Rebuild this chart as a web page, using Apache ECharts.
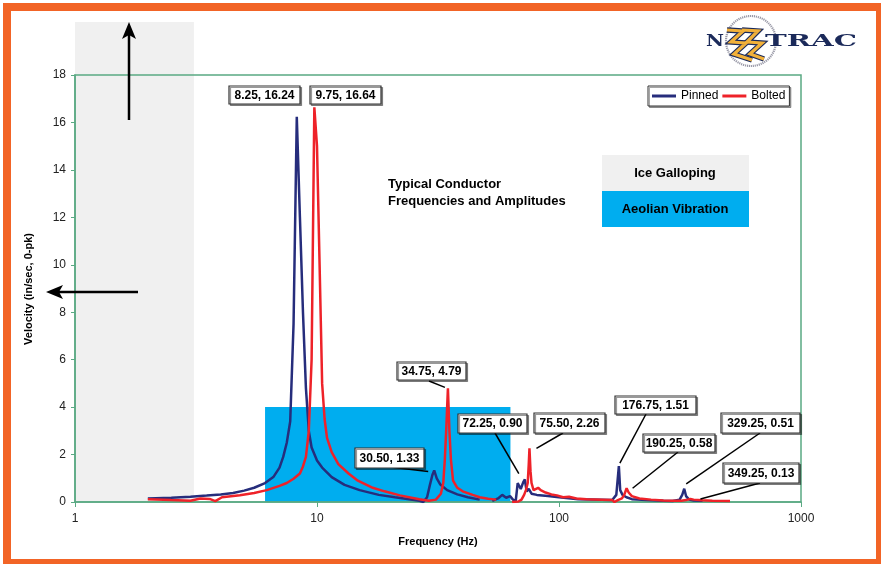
<!DOCTYPE html>
<html><head><meta charset="utf-8">
<script src="https://cdn.jsdelivr.net/npm/echarts@6/dist/echarts.min.js"></script>
<style>
html,body{margin:0;padding:0;width:881px;height:564px;overflow:hidden;background:#fff;}
#chart{position:absolute;left:0;top:0;width:881px;height:564px;}
#frame{position:absolute;left:3px;top:3px;width:881px;height:564px;box-sizing:border-box;border:8px solid #f26426;pointer-events:none;}
</style></head><body>
<div id="chart"></div><div id="frame"></div>
<script>
// ---------- data ----------
const seriesNames = ['Pinned', 'Bolted'];
const pinnedFreq = [2.0,2.5,3.0,3.5,4.0,4.5,5.0,5.5,6.1,6.6,7.0,7.25,7.5,7.75,8.0,8.25,8.5,8.75,9.0,9.25,9.5,10.0,10.5,11.5,13.0,15.0,18.0,21.0,24.0,26.5,27.5,28.5,29.25,30.0,30.5,31.25,32.25,34.5,38.0,42.0,47.0,50.0,53.0,56.0,58.25,60.5,62.75,64.5,66.25,67.5,69.5,71.25,72.25,73.5,75.0,77.0,81.0,90.0,100.0,120.0,150.0,166.0,169.0,172.5,176.75,179.0,183.0,190.0,200.0,230.0,270.0,295.0,298.0,315.0,323.0,329.25,335.0,345.0,360.0,392.0];
const pinnedVel = [0.15,0.18,0.22,0.27,0.32,0.38,0.48,0.6,0.8,1.05,1.45,1.9,2.5,3.4,7.5,16.24,12.0,8.0,4.8,3.0,2.3,1.75,1.45,1.05,0.72,0.5,0.3,0.2,0.12,0.05,0.0,0.2,0.7,1.15,1.33,1.0,0.75,0.5,0.32,0.2,0.1,'-',0.05,0.15,0.3,0.18,0.25,0.1,0.05,0.8,0.55,0.85,0.95,0.45,0.55,0.35,0.3,0.25,0.2,0.12,0.1,0.08,0.0,0.3,1.51,0.5,0.3,0.2,0.12,0.08,0.05,0.04,0.0,0.1,0.3,0.56,0.25,0.1,0.06,0.05];
const boltedFreq = [2.0,2.5,3.0,3.3,3.6,3.8,4.05,4.8,5.5,6.2,7.0,7.5,8.0,8.5,8.75,9.0,9.25,9.5,9.75,10.0,10.25,10.5,10.75,11.0,11.5,12.25,13.5,14.75,17.0,19.0,22.0,26.5,29.0,31.0,32.5,33.25,33.75,34.25,34.75,35.25,35.75,36.5,38.0,40.0,44.0,47.0,51.0,55.0,60.0,64.0,68.0,70.0,71.75,73.0,74.25,75.0,75.5,76.25,77.0,78.5,80.0,82.0,84.0,88.0,93.0,98.0,104.0,110.0,118.0,130.0,150.0,166.0,169.5,175.0,182.0,186.0,190.25,194.0,200.0,215.0,240.0,270.0,295.0,299.0,320.0,335.0,349.25,360.0,390.0,430.0,509.0];
const boltedVel = [0.12,0.08,0.05,0.15,0.13,0.04,0.2,0.28,0.38,0.5,0.68,0.8,0.98,1.2,1.5,1.9,3.0,6.0,16.64,15.0,10.0,5.0,3.5,2.7,2.1,1.6,1.2,0.9,0.6,0.45,0.28,0.12,0.05,0.1,0.35,0.8,1.8,3.2,4.79,3.0,1.8,0.9,0.6,0.45,0.3,0.2,0.14,0.1,'-',0.0,0.02,0.1,0.3,0.5,0.8,1.6,2.26,1.3,0.8,0.5,0.55,0.6,0.5,0.4,0.32,0.28,0.2,0.22,0.15,0.12,0.1,0.08,0.0,0.08,0.15,0.3,0.58,0.4,0.25,0.15,0.1,0.06,0.05,0.0,0.05,0.08,0.13,0.1,0.07,0.05,0.04];
const peakFreq = [8.25, 9.75, 30.5, 34.75, 72.25, 75.5, 176.75, 190.25, 329.25, 349.25];
const peakVel  = [16.24, 16.64, 1.33, 4.79, 0.90, 2.26, 1.51, 0.58, 0.51, 0.13];
const iceRange = [1, 3.1];          // Hz
const aeolianRange = [6.1, 63];     // Hz
const aeolianMaxVel = 4;
const yMin = 0, yMax = 18, yStep = 2;
const xMin = 1, xMax = 1000;

// ---------- layout / style ----------
const FONT = '"Liberation Sans", Arial, sans-serif';
const GREEN = '#5aa983';
const BLUE = '#262d7c';
const RED = '#ee2229';
const CYAN = '#00adef';
const GREY = '#f0f0f0';
const annLayout = [
  {box:[229,86,71,18]},
  {box:[310,86,71,18]},
  {box:[355,448,69,20], from:[390,467], off:[-6,1]},
  {box:[397,362,69,18], from:[429,381], off:[-3,-1]},
  {box:[458,414,69,19], from:[495,433], off:[-6,-7]},
  {box:[534,413,71,20], from:[563,433], off:[7,0]},
  {box:[615,396,81,18], from:[646,414], off:[1,-3]},
  {box:[643,434,72,18], from:[678,452], off:[6,0]},
  {box:[721,413,79,20], from:[760,433], off:[2,-6]},
  {box:[723,463,76,20], from:[760,483], off:[10,0]}
];

const zip = (fs, vs) => fs.map((f, i) => [f, vs[i]]);

const chart = echarts.init(document.getElementById('chart'), null, {renderer:'canvas'});
const option = {
  animation: false,
  backgroundColor: '#fff',
  textStyle: {fontFamily: FONT},
  grid: {left:75, right:80, top:75, bottom:62, show:true, borderColor:GREEN, borderWidth:1.5, backgroundColor:'transparent'},
  legend: {
    data: seriesNames, left:648, top:86, orient:'horizontal',
    padding:[4,4], itemGap:4, itemWidth:24, itemHeight:3, icon:'rect',
    backgroundColor:'#fff', borderColor:'#333', borderWidth:1,
    shadowColor:'rgba(0,0,0,0.35)', shadowOffsetX:1.5, shadowOffsetY:1.5, shadowBlur:0,
    textStyle:{fontSize:12, color:'#000', fontFamily:FONT}
  },
  xAxis: {
    type:'log', logBase:10, min:xMin, max:xMax,
    axisLine:{show:true, onZero:false, lineStyle:{color:GREEN, width:1.5}},
    axisTick:{show:true, length:5, lineStyle:{color:GREEN}},
    minorTick:{show:false}, splitLine:{show:false},
    axisLabel:{color:'#222', fontSize:12, margin:11, fontFamily:FONT, formatter: v => String(Math.round(v))}
  },
  yAxis: {
    type:'value', min:yMin, max:yMax, interval:yStep,
    axisLine:{show:true, lineStyle:{color:GREEN, width:1.5}},
    axisTick:{show:true, length:4, lineStyle:{color:GREEN}},
    splitLine:{show:false},
    axisLabel:{color:'#222', fontSize:12, margin:9, fontFamily:FONT}
  },
  series: [
    {name:seriesNames[0], type:'line', data:zip(pinnedFreq, pinnedVel), showSymbol:false, symbol:'none',
     lineStyle:{color:BLUE, width:2.5}, itemStyle:{color:BLUE}, connectNulls:false, z:3},
    {name:seriesNames[1], type:'line', data:zip(boltedFreq, boltedVel), showSymbol:false, symbol:'none',
     lineStyle:{color:RED, width:2.5}, itemStyle:{color:RED}, connectNulls:false, z:4}
  ]
};
chart.setOption(option);

const px = (f, v) => chart.convertToPixel({gridIndex:0}, [f, v]);
const g = [];

// regions
const ice0 = px(iceRange[0], yMin), ice1 = px(iceRange[1], yMax);
g.push({type:'rect', z:-10, shape:{x:ice0[0], y:22, width:ice1[0]-ice0[0], height:ice0[1]-22}, style:{fill:GREY}});
const ae0 = px(aeolianRange[0], yMin), ae1 = px(aeolianRange[1], aeolianMaxVel);
g.push({type:'rect', z:-10, shape:{x:ae0[0], y:ae1[1], width:ae1[0]-ae0[0], height:ae0[1]-ae1[1]}, style:{fill:CYAN}});

// arrows
g.push({type:'line', z:50, shape:{x1:129, y1:120, x2:129, y2:34}, style:{stroke:'#000', lineWidth:2.5}});
g.push({type:'polygon', z:50, shape:{points:[[129,22],[136,39],[129,35],[122,39]]}, style:{fill:'#000'}});
g.push({type:'line', z:50, shape:{x1:138, y1:292, x2:58, y2:292}, style:{stroke:'#000', lineWidth:2.5}});
g.push({type:'polygon', z:50, shape:{points:[[46,292],[63,285],[59,292],[63,299]]}, style:{fill:'#000'}});

// axis titles
g.push({type:'text', z:50, x:438, y:542, style:{text:'Frequency (Hz)', font:'bold 11px '+FONT, fill:'#000', align:'center', verticalAlign:'middle'}});
g.push({type:'text', z:50, x:29, y:289, rotation:Math.PI/2, style:{text:'Velocity (in/sec, 0-pk)', font:'bold 11px '+FONT, fill:'#000', align:'center', verticalAlign:'middle'}});

// title text
g.push({type:'text', z:50, x:388, y:184, style:{text:'Typical Conductor', font:'bold 13px '+FONT, fill:'#000', align:'left', verticalAlign:'middle'}});
g.push({type:'text', z:50, x:388, y:201, style:{text:'Frequencies and Amplitudes', font:'bold 13px '+FONT, fill:'#000', align:'left', verticalAlign:'middle'}});

// key boxes
g.push({type:'rect', z:50, shape:{x:602, y:155, width:147, height:36}, style:{fill:GREY}});
g.push({type:'rect', z:50, shape:{x:602, y:191, width:147, height:36}, style:{fill:CYAN}});
g.push({type:'text', z:51, x:675, y:173, style:{text:'Ice Galloping', font:'bold 13px '+FONT, fill:'#000', align:'center', verticalAlign:'middle'}});
g.push({type:'text', z:51, x:675, y:209, style:{text:'Aeolian Vibration', font:'bold 13px '+FONT, fill:'#000', align:'center', verticalAlign:'middle'}});

// peak annotations
peakFreq.forEach((f, i) => {
  const L = annLayout[i];
  const [bx, by, bw, bh] = L.box;
  if (L.from) {
    const p = px(f, peakVel[i]);
    g.push({type:'line', z:60, shape:{x1:L.from[0], y1:L.from[1], x2:p[0]+L.off[0], y2:p[1]+L.off[1]}, style:{stroke:'#000', lineWidth:1.5}});
  }
  g.push({type:'rect', z:61, shape:{x:bx, y:by, width:bw, height:bh}, style:{fill:'#fff', stroke:'#333', lineWidth:1.2, shadowColor:'rgba(0,0,0,0.4)', shadowOffsetX:1.5, shadowOffsetY:1.5, shadowBlur:0}});
  g.push({type:'text', z:62, x:bx+bw/2, y:by+bh/2+0.5, style:{text:f.toFixed(2)+', '+peakVel[i].toFixed(2), font:'bold 12px '+FONT, fill:'#000', align:'center', verticalAlign:'middle'}});
});

// logo
const measure = (t, font) => { const c = document.createElement('canvas').getContext('2d'); c.font = font; return c.measureText(t).width; };
const LOGOFONT = 'bold 17px "DejaVu Serif", serif';
const NAVY = '#1b2a5a';
g.push({type:'circle', z:40, shape:{cx:751, cy:41, r:25}, style:{fill:'none', stroke:'#9a9aa8', lineWidth:2.2, lineDash:[1.2,0.8]}});
const bolt1 = [[727,30],[743,31],[731,42],[746,43],[734,54],[752,60]];
const bolt2 = [[742,30],[758,31],[747,42],[762,43],[750,54],[764,59]];
[bolt1, bolt2].forEach(b => {
  g.push({type:'polyline', z:41, shape:{points:b}, style:{stroke:NAVY, lineWidth:5.5, lineJoin:'miter', fill:'none'}});
  g.push({type:'polyline', z:42, shape:{points:b}, style:{stroke:'#f2b13a', lineWidth:3.2, lineJoin:'miter', fill:'none'}});
});
g.push({type:'text', z:43, x:706, y:42, scaleX:18/measure('N', LOGOFONT), style:{text:'N', font:LOGOFONT, fill:NAVY, align:'left', verticalAlign:'middle'}});
g.push({type:'text', z:43, x:765, y:42, scaleX:92/measure('TRAC', LOGOFONT), style:{text:'TRAC', font:LOGOFONT, fill:NAVY, align:'left', verticalAlign:'middle'}});

chart.setOption({graphic: g});
</script>
</body></html>
